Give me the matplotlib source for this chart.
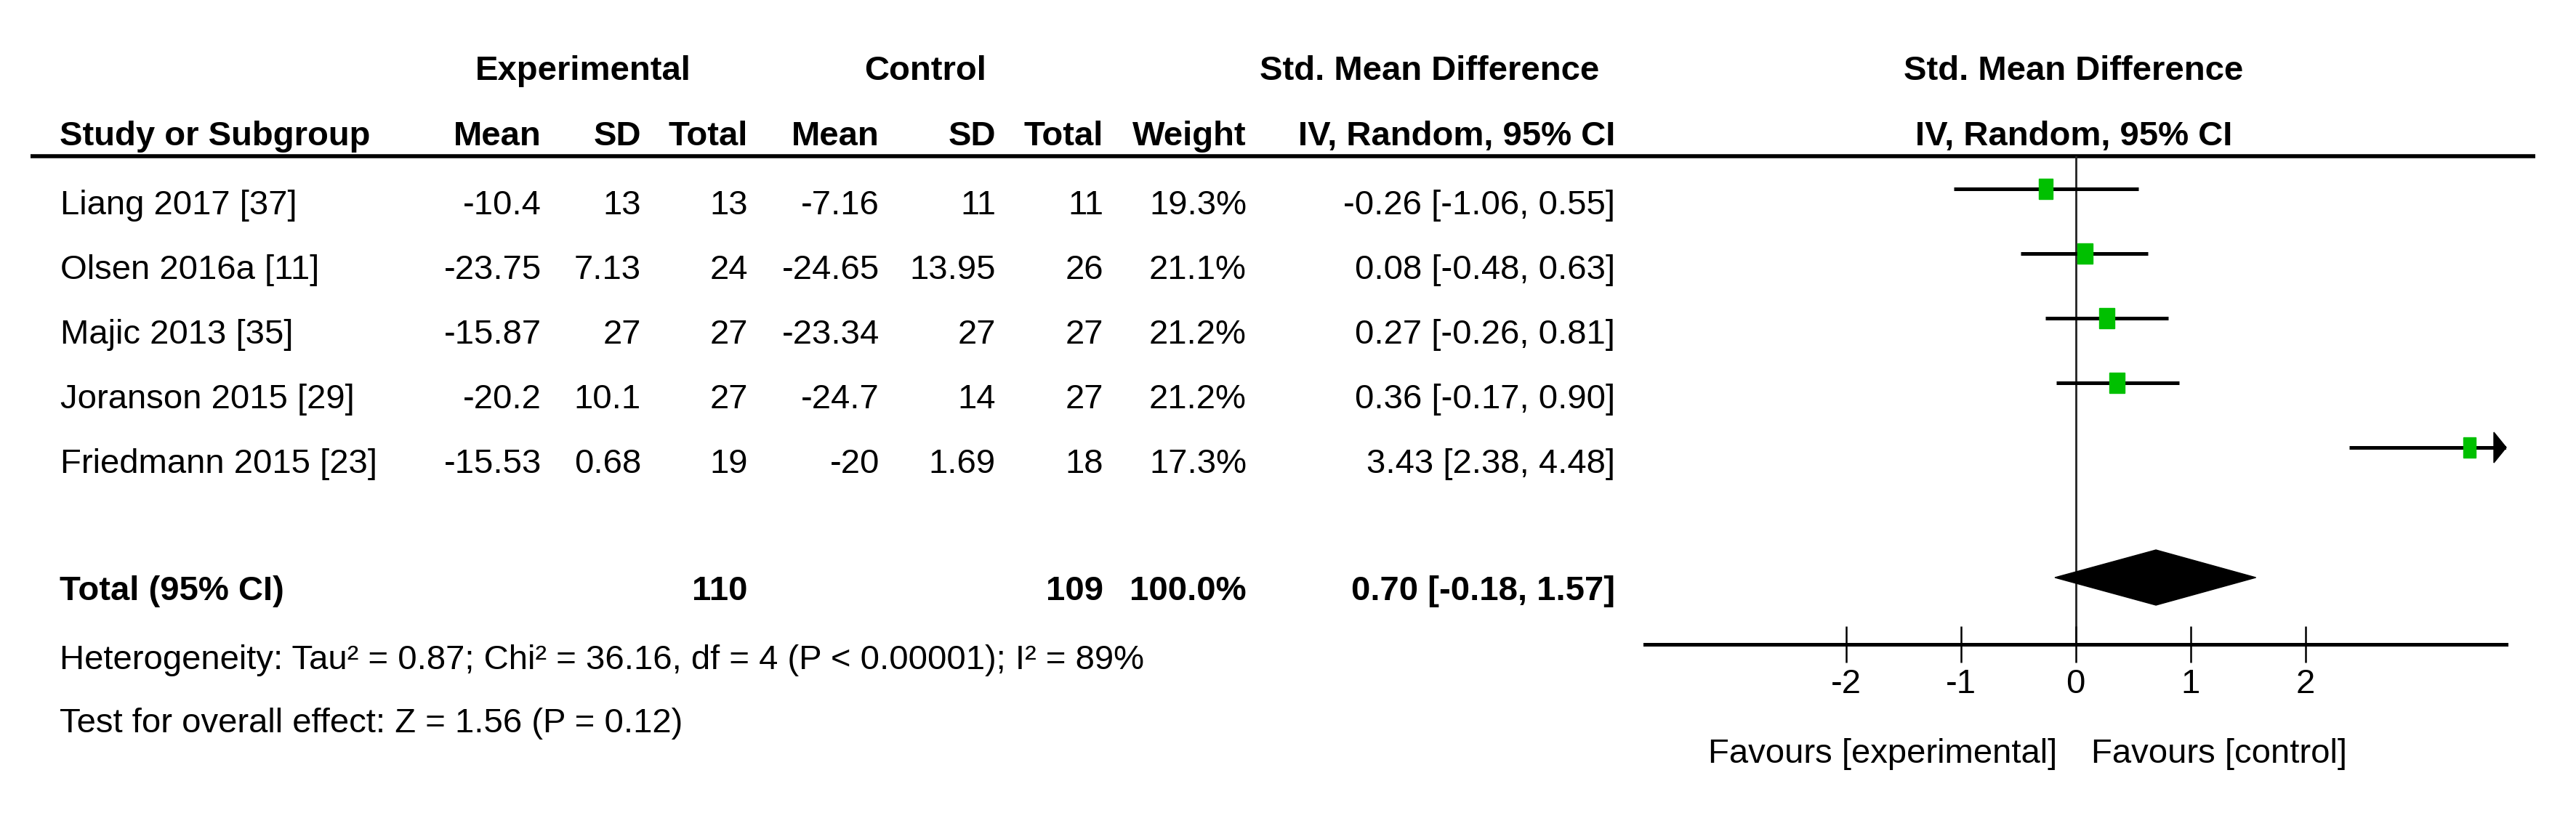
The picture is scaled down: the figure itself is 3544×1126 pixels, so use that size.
import matplotlib
matplotlib.use("Agg")
import matplotlib.pyplot as plt
import matplotlib.font_manager as fm
from matplotlib.patches import Rectangle, Polygon

# ---------------- data ----------------
studies = ["Liang 2017 [37]", "Olsen 2016a [11]", "Majic 2013 [35]",
           "Joranson 2015 [29]", "Friedmann 2015 [23]"]
exp_mean = [-10.4, -23.75, -15.87, -20.2, -15.53]
exp_sd = [13, 7.13, 27, 10.1, 0.68]
exp_n = [13, 24, 27, 27, 19]
ctl_mean = [-7.16, -24.65, -23.34, -24.7, -20]
ctl_sd = [11, 13.95, 27, 14, 1.69]
ctl_n = [11, 26, 27, 27, 18]
weights = [19.3, 21.1, 21.2, 21.2, 17.3]
smd = [-0.26, 0.08, 0.27, 0.36, 3.43]
ci_lo = [-1.06, -0.48, -0.26, -0.17, 2.38]
ci_hi = [0.55, 0.63, 0.81, 0.90, 4.48]

total_label = "Total (95% CI)"
total_exp_n = 110
total_ctl_n = 109
total_weight = 100.0
total_smd = 0.70
total_lo = -0.18
total_hi = 1.57

heterogeneity = "Heterogeneity: Tau² = 0.87; Chi² = 36.16, df = 4 (P < 0.00001); I² = 89%"
overall = "Test for overall effect: Z = 1.56 (P = 0.12)"
fav_left = "Favours [experimental]"
fav_right = "Favours [control]"
x_ticks = [-2, -1, 0, 1, 2]
x_limits = (-3.75, 3.75)

# ---------------- fonts ----------------
names = {f.name for f in fm.fontManager.ttflist}
if "Liberation Sans Narrow" in names:
    FAM = ["Liberation Sans Narrow", "Liberation Sans", "DejaVu Sans"]
    FS = 41
    DY = 0
else:
    FAM = ["Liberation Sans", "DejaVu Sans"]
    FS = 34
    DY = -7   # keep text centred on the reference rows (smaller cap height)
plt.rcParams["font.family"] = FAM

W, H = 3544, 1126
fig = plt.figure(figsize=(W / 100, H / 100), dpi=100)
fig.patch.set_facecolor("white")

# overlay axes in pixel coordinates for the table
ov = fig.add_axes([0, 0, 1, 1])
ov.set_xlim(0, W)
ov.set_ylim(H, 0)
ov.axis("off")

def t(x, y, s, ha="left", bold=False, size=FS):
    ov.text(x, y + DY, s, ha=ha, va="baseline", fontsize=size,
            fontweight="bold" if bold else "normal", color="black")

# headers
t(802, 117, "Experimental", ha="center", bold=True)
t(1273, 117, "Control", ha="center", bold=True)
t(2200, 117, "Std. Mean Difference", ha="right", bold=True)
t(2853, 117, "Std. Mean Difference", ha="center", bold=True)

col_x = [745, 882, 1029, 1210, 1370, 1518, 1715, 2222]
hdr = ["Mean", "SD", "Total", "Mean", "SD", "Total", "Weight", "IV, Random, 95% CI"]
t(82, 207, "Study or Subgroup", bold=True)
for x, h in zip(col_x, hdr):
    t(x, 207, h, ha="right", bold=True)
t(2853, 207, "IV, Random, 95% CI", ha="center", bold=True)

# header rule
ov.plot([42, 3488], [215, 215], color="black", lw=4.0, solid_capstyle="butt")

# study rows
base0, step = 302, 89
for i, name in enumerate(studies):
    yb = base0 + step * i
    vals = [f"{exp_mean[i]:g}", f"{exp_sd[i]:g}", f"{exp_n[i]}",
            f"{ctl_mean[i]:g}", f"{ctl_sd[i]:g}", f"{ctl_n[i]}",
            f"{weights[i]:.1f}%",
            f"{smd[i]:.2f} [{ci_lo[i]:.2f}, {ci_hi[i]:.2f}]"]
    t(83, yb, name)
    for x, v in zip(col_x, vals):
        t(x, yb, v, ha="right")

# total row
yt = 833
t(82, yt, total_label, bold=True)
t(col_x[2], yt, f"{total_exp_n}", ha="right", bold=True)
t(col_x[5], yt, f"{total_ctl_n}", ha="right", bold=True)
t(col_x[6], yt, f"{total_weight:.1f}%", ha="right", bold=True)
t(col_x[7], yt, f"{total_smd:.2f} [{total_lo:.2f}, {total_hi:.2f}]", ha="right", bold=True)

t(82, 928, heterogeneity)
t(82, 1015, overall)

# favours labels
t(2830, 1057, fav_left, ha="right")
t(2877, 1057, fav_right, ha="left")

# ---------------- forest axes ----------------
ax_l, ax_r = 2263, 3448
ax_top, ax_bot = 215, 887
ax = fig.add_axes([ax_l / W, 1 - ax_bot / H, (ax_r - ax_l) / W, (ax_bot - ax_top) / H])
ax.set_facecolor("none")
ax.set_xlim(*x_limits)
ax.set_ylim(ax_bot, ax_top)
for s in ["top", "left", "right"]:
    ax.spines[s].set_visible(False)
ax.spines["bottom"].set_linewidth(3.6)
ax.set_yticks([])
ax.set_xticks(x_ticks)
ax.set_xticklabels([f"{v}" for v in x_ticks], fontsize=FS)
ax.tick_params(axis="x", direction="inout", length=36, width=1.8, pad=6, colors="black")

ax.axvline(0, color="#222222", lw=2.0, zorder=1)

green = "#00C000"
px_per_unit = (ax_r - ax_l) / (x_limits[1] - x_limits[0])
for i in range(len(studies)):
    yc = 260 + step * i
    lo = max(ci_lo[i], x_limits[0])
    hi = min(ci_hi[i], x_limits[1])
    ax.plot([lo, hi], [yc, yc], color="black", lw=3.6, solid_capstyle="butt", zorder=2)
    if ci_hi[i] > x_limits[1]:
        aw = 17 / px_per_unit
        ax.add_patch(Polygon([[x_limits[1] - aw, yc - 21], [x_limits[1], yc],
                              [x_limits[1] - aw, yc + 21]], closed=True,
                             color="black", clip_on=False, zorder=3))
    w = weights[i] * 1.0 / px_per_unit
    ax.add_patch(Rectangle((smd[i] - w / 2, yc - 14), w, 28, color=green, zorder=4))

yd = 795
ax.add_patch(Polygon([[total_lo, yd], [total_smd, yd - 38], [total_hi, yd],
                      [total_smd, yd + 38]], closed=True, color="black", zorder=4))

fig.savefig("out.png", dpi=100, facecolor="white")
